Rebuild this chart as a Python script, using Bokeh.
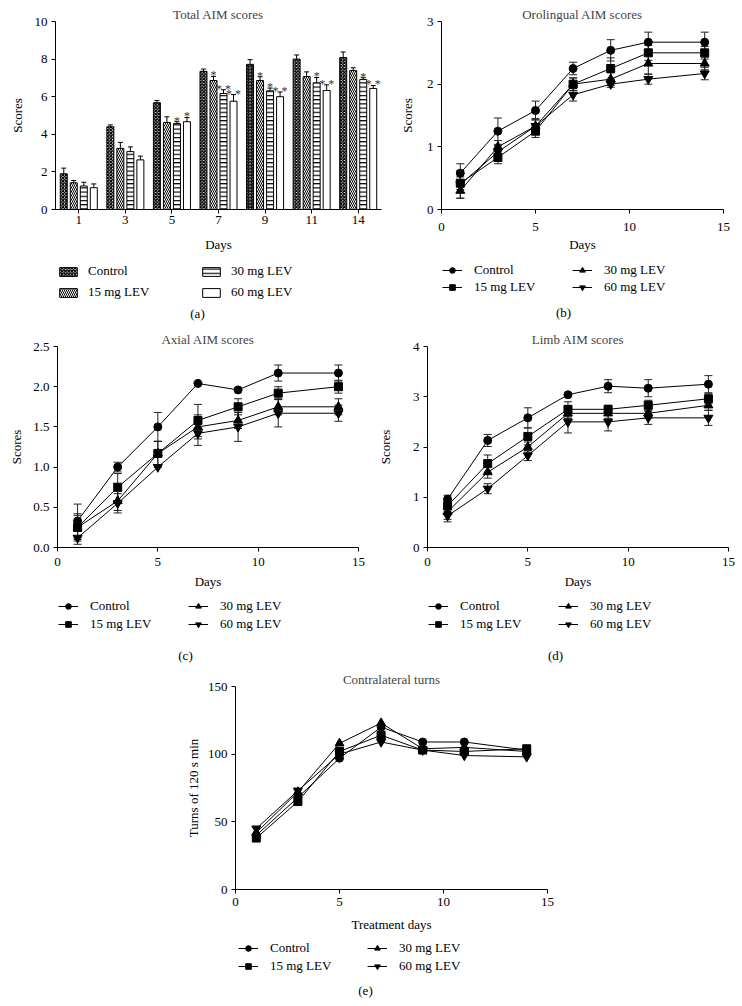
from bokeh.plotting import figure
from bokeh.models import (ColumnDataSource, FactorRange, Range1d, Legend, LegendItem,
                          Label, Spacer, FixedTicker, PrintfTickFormatter)
from bokeh.transform import dodge
from bokeh.layouts import column, row
from bokeh.embed import file_html
from bokeh.resources import INLINE
from bokeh.core.properties import value

FONT = "Liberation Serif"

# ---------------- data ----------------
day_labels = ["1", "3", "5", "7", "9", "11", "14"]
days = [1, 3, 5, 7, 9, 11, 14]
series_names = ["Control", "15 mg LEV", "30 mg LEV", "60 mg LEV"]

# (a) Total AIM scores (bars)
total_control = [1.90, 4.40, 5.68, 7.35, 7.72, 8.00, 8.08]
total_15 = [1.42, 3.25, 4.63, 6.86, 6.86, 7.07, 7.39]
total_30 = [1.25, 3.08, 4.57, 6.17, 6.31, 6.74, 6.91]
total_60 = [1.16, 2.64, 4.67, 5.76, 6.00, 6.33, 6.44]
total_control_err = [0.30, 0.10, 0.12, 0.12, 0.25, 0.22, 0.30]
total_15_err = [0.12, 0.32, 0.30, 0.22, 0.20, 0.25, 0.15]
total_30_err = [0.20, 0.25, 0.10, 0.20, 0.15, 0.28, 0.10]
total_60_err = [0.20, 0.20, 0.22, 0.35, 0.25, 0.30, 0.15]
total_control_sig = ["", "", "", "", "", "", ""]
total_15_sig = ["", "", "", "*", "*", "", ""]
total_30_sig = ["", "", "*", "**", "*", "*", "*"]
total_60_sig = ["", "", "*", "**", "**", "**", "**"]

# (b) Orolingual AIM scores
oro_control = [0.58, 1.25, 1.58, 2.25, 2.54, 2.67, 2.67]
oro_15 = [0.42, 0.83, 1.25, 2.00, 2.25, 2.50, 2.50]
oro_30 = [0.30, 1.00, 1.33, 2.00, 2.08, 2.33, 2.33]
oro_60 = [0.40, 0.92, 1.33, 1.83, 2.00, 2.08, 2.17]
oro_control_err = [0.15, 0.21, 0.15, 0.10, 0.17, 0.16, 0.16]
oro_15_err = [0.10, 0.10, 0.10, 0.10, 0.17, 0.12, 0.10]
oro_30_err = [0.12, 0.10, 0.12, 0.10, 0.10, 0.17, 0.10]
oro_60_err = [0.22, 0.10, 0.10, 0.10, 0.05, 0.08, 0.10]

# (c) Axial AIM scores
axial_control = [0.33, 1.00, 1.50, 2.04, 1.96, 2.17, 2.17]
axial_15 = [0.25, 0.75, 1.17, 1.58, 1.75, 1.92, 2.00]
axial_30 = [0.25, 0.58, 1.17, 1.50, 1.58, 1.75, 1.75]
axial_60 = [0.12, 0.55, 1.00, 1.42, 1.50, 1.67, 1.67]
axial_control_err = [0.21, 0.06, 0.18, 0.0, 0.0, 0.10, 0.10]
axial_15_err = [0.17, 0.17, 0.15, 0.20, 0.10, 0.08, 0.08]
axial_30_err = [0.15, 0.12, 0.15, 0.15, 0.10, 0.10, 0.10]
axial_60_err = [0.08, 0.12, 0.0, 0.15, 0.18, 0.17, 0.10]

# (d) Limb AIM scores
limb_control = [0.96, 2.13, 2.58, 3.04, 3.21, 3.17, 3.25]
limb_15 = [0.83, 1.67, 2.21, 2.75, 2.75, 2.83, 2.96]
limb_30 = [0.71, 1.50, 2.00, 2.67, 2.67, 2.67, 2.83]
limb_60 = [0.63, 1.17, 1.83, 2.50, 2.50, 2.58, 2.58]
limb_control_err = [0.08, 0.12, 0.20, 0.0, 0.13, 0.17, 0.17]
limb_15_err = [0.12, 0.17, 0.17, 0.15, 0.08, 0.10, 0.10]
limb_30_err = [0.15, 0.12, 0.10, 0.10, 0.10, 0.10, 0.10]
limb_60_err = [0.12, 0.10, 0.10, 0.22, 0.18, 0.13, 0.15]

# (e) Contralateral turns
turns_control = [40, 68, 97, 120, 109, 109, 103]
turns_15 = [38, 65, 102, 114, 103, 102, 104]
turns_30 = [42, 72, 108, 123, 104, 105, 102]
turns_60 = [45, 73, 100, 109, 103, 99, 98]

# ---------------- styling helpers ----------------
FS = "13px"


def style_axes(p, x_std, x_als, y_als):
    p.grid.visible = False
    p.outline_line_color = None
    for ax in p.axis:
        ax.axis_line_color = "black"
        ax.axis_line_width = 1
        ax.major_tick_line_color = "black"
        ax.minor_tick_line_color = None
        ax.major_tick_out = 4
        ax.major_tick_in = 0
        ax.major_label_text_font = FONT
        ax.major_label_text_font_size = FS
        ax.major_label_text_color = "black"
        ax.major_label_standoff = 4
        ax.axis_label_text_font = FONT
        ax.axis_label_text_font_size = FS
        ax.axis_label_text_font_style = "normal"
        ax.axis_label_text_color = "black"
    p.xaxis.major_label_standoff = x_std
    p.xaxis.axis_label_standoff = x_als
    p.yaxis.axis_label_standoff = y_als
    p.title.text_font = FONT
    p.title.text_font_size = FS
    p.title.text_font_style = "normal"
    p.title.align = "center"
    p.title.standoff = 0


def new_fig(fw, fh, borders, **kw):
    l, r, t, b = borders
    return figure(width=l + fw + r, height=t + fh + b,
                  min_border_left=l, min_border_right=r, min_border_top=t, min_border_bottom=b,
                  output_backend="svg", toolbar_location=None, **kw)


def legend_fig(width, height, loc, glyph_w, glyph_h, standoff, label_w, label_h, tag, tag_xy, add_dummies):
    q = figure(width=width, height=height, x_range=Range1d(0, 1), y_range=Range1d(0, 1),
               min_border=0, x_axis_location=None, y_axis_location=None,
               output_backend="svg", toolbar_location=None)
    q.grid.visible = False
    q.outline_line_color = None
    items = add_dummies(q)
    q.add_layout(Legend(items=items, nrows=2, location=loc, margin=0, padding=0,
                        border_line_color=None, background_fill_alpha=0,
                        glyph_width=glyph_w, glyph_height=glyph_h, label_standoff=standoff,
                        label_width=label_w, label_height=label_h, spacing=0,
                        label_text_font=FONT, label_text_font_size=FS,
                        label_text_color="black"))
    q.add_layout(Label(x=tag_xy[0], y=tag_xy[1], x_units="screen", y_units="screen", text=tag,
                       text_align="center", text_baseline="middle", text_font=FONT,
                       text_font_size=FS, text_color="black"))
    return q


# ---------------- (a) bars ----------------
pa = new_fig(326, 188, (55, 4, 21, 50), x_range=FactorRange(factors=day_labels),
             y_range=Range1d(0, 10), title="Total AIM scores")
pa.xaxis.axis_label = "Days"
pa.yaxis.axis_label = "Scores"
pa.yaxis.ticker = FixedTicker(ticks=[0, 2, 4, 6, 8, 10])

bar_vals = [total_control, total_15, total_30, total_60]
bar_errs = [total_control_err, total_15_err, total_30_err, total_60_err]
bar_sigs = [total_control_sig, total_15_sig, total_30_sig, total_60_sig]
control_hatch = ["diagonal_cross"] * 7
control_hatch[4] = "right_diagonal_line"
bar_styles = [
    dict(fill_color="white", hatch_color="black", hatch_scale=3.2, hatch_weight=1.3),
    dict(fill_color="white", hatch_pattern="left_diagonal_line", hatch_color="black", hatch_scale=4, hatch_weight=1.0),
    dict(fill_color="white", hatch_pattern="horizontal_line", hatch_color="black", hatch_scale=4.2, hatch_weight=1.2),
    dict(fill_color="white"),
]
for i in range(4):
    off = (-1.5 + i) * 0.215
    up = [v + e for v, e in zip(bar_vals[i], bar_errs[i])]
    src = ColumnDataSource(dict(day=day_labels, val=bar_vals[i], up=up,
                                sig=[s.replace("**", "* *") for s in bar_sigs[i]],
                                sig_y=[u + 0.06 for u in up], hatch=control_hatch))
    xd = dodge("day", off, range=pa.x_range)
    st = dict(bar_styles[i])
    if i == 0:
        st["hatch_pattern"] = "hatch"
    pa.vbar(x=xd, top="val", width=0.15, source=src, line_color="black", line_width=1, **st)
    pa.segment(x0=xd, x1=xd, y0="val", y1="up", source=src, line_color="black", line_width=1)
    pa.scatter(x=xd, y="up", marker="dash", size=5, source=src, line_color="black", line_width=1)
    pa.text(x=xd, y="sig_y", text="sig", source=src, text_align="center",
            text_baseline="alphabetic", text_font=value(FONT), text_font_size="12px",
            text_color="#333333")
style_axes(pa, 2, 10, 7)

OUT = [-5.0]  # off-range placeholder point so legend swatches have a row to draw


def bar_dummies(q):
    items = []
    for i in range(4):
        st = dict(bar_styles[i])
        if i == 0:
            st["hatch_pattern"] = "diagonal_cross"
        r = q.vbar(x=OUT, top=OUT, bottom=OUT, width=0.1, line_color="black", line_width=1, **st)
        items.append(LegendItem(label=series_names[i], renderers=[r]))
    return items


la = legend_fig(385, 69, (2, 25.5), 22, 11, 9, 112, 21, "(a)", (142, 15), bar_dummies)

# ---------------- line panels ----------------
markers = ["circle", "square", "triangle", "inverted_triangle"]
msizes = [8, 8, 9, 9]


def line_dummies(q):
    items = []
    for i in range(4):
        lr = q.line(x=OUT, y=OUT, line_color="black", line_width=1)
        sr = q.scatter(x=OUT, y=OUT, marker=markers[i], size=msizes[i], fill_color="black",
                       line_color="black")
        items.append(LegendItem(label=series_names[i], renderers=[lr, sr]))
    return items


def line_panel(title, ylabel, xlabel, ymax, yticks, vals, errs, fw, fh, borders,
               axis_args, fmt=None):
    p = new_fig(fw, fh, borders, x_range=Range1d(0, 15), y_range=Range1d(0, ymax), title=title)
    p.xaxis.axis_label = xlabel
    p.yaxis.axis_label = ylabel
    p.xaxis.ticker = FixedTicker(ticks=[0, 5, 10, 15])
    p.yaxis.ticker = FixedTicker(ticks=yticks)
    if fmt:
        p.yaxis.formatter = PrintfTickFormatter(format=fmt)
    srcs = []
    for i in range(4):
        d = dict(x=days, y=vals[i])
        if errs is not None:
            d["lo"] = [v - e for v, e in zip(vals[i], errs[i])]
            d["hi"] = [v + e for v, e in zip(vals[i], errs[i])]
        srcs.append(ColumnDataSource(d))
    for i in range(4):
        p.line("x", "y", source=srcs[i], line_color="black", line_width=1)
    if errs is not None:
        for i in range(4):
            p.segment(x0="x", x1="x", y0="lo", y1="hi", source=srcs[i], line_color="#222222", line_width=1)
            p.scatter("x", "lo", marker="dash", size=8, source=srcs[i], line_color="#222222", line_width=1)
            p.scatter("x", "hi", marker="dash", size=8, source=srcs[i], line_color="#222222", line_width=1)
    for i in range(4):
        p.scatter("x", "y", source=srcs[i], marker=markers[i], size=msizes[i],
                  fill_color="black", line_color="black")
    style_axes(p, *axis_args)
    return p


pb = line_panel("Orolingual AIM scores", "Scores", "Days", 3, [0, 1, 2, 3],
                [oro_control, oro_15, oro_30, oro_60],
                [oro_control_err, oro_15_err, oro_30_err, oro_60_err],
                282, 188, (56, 19, 21, 50), (9, 3, 9))
lb = legend_fig(357, 69, (1, 32.5), 20, 14, 12, 98, 17, "(b)", (122, 16), line_dummies)

pc = line_panel("Axial AIM scores", "Scores", "Days", 2.5, [0, 0.5, 1, 1.5, 2, 2.5],
                [axial_control, axial_15, axial_30, axial_60],
                [axial_control_err, axial_15_err, axial_30_err, axial_60_err],
                301, 201, (57, 12, 18, 50), (6, 5, 6), fmt="%.1f")
lc = legend_fig(370, 71, (1, 35), 20, 14, 12, 98, 18, "(c)", (128, 13), line_dummies)

pd_ = line_panel("Limb AIM scores", "Scores", "Days", 4, [0, 1, 2, 3, 4],
                 [limb_control, limb_15, limb_30, limb_60],
                 [limb_control_err, limb_15_err, limb_30_err, limb_60_err],
                 301, 201, (57, 14, 18, 50), (6, 5, 17))
ld = legend_fig(372, 71, (1, 35), 20, 14, 12, 98, 18, "(d)", (128, 13), line_dummies)

pe = line_panel("Contralateral turns", "Turns of 120 s min", "Treatment days", 150,
                [0, 50, 100, 150],
                [turns_control, turns_15, turns_30, turns_60], None,
                312, 203, (57, 12, 18, 50), (4, 8, 4))
le = legend_fig(381, 61, (3, 25), 20, 14, 12, 97, 18, "(e)", (130, 10), line_dummies)

layout = column(
    row(column(pa, la), column(pb, lb)),
    row(column(pc, lc), column(pd_, ld)),
    row(Spacer(width=178, height=5), column(pe, le)),
)

open("out.html", "w").write(file_html(layout, INLINE))
